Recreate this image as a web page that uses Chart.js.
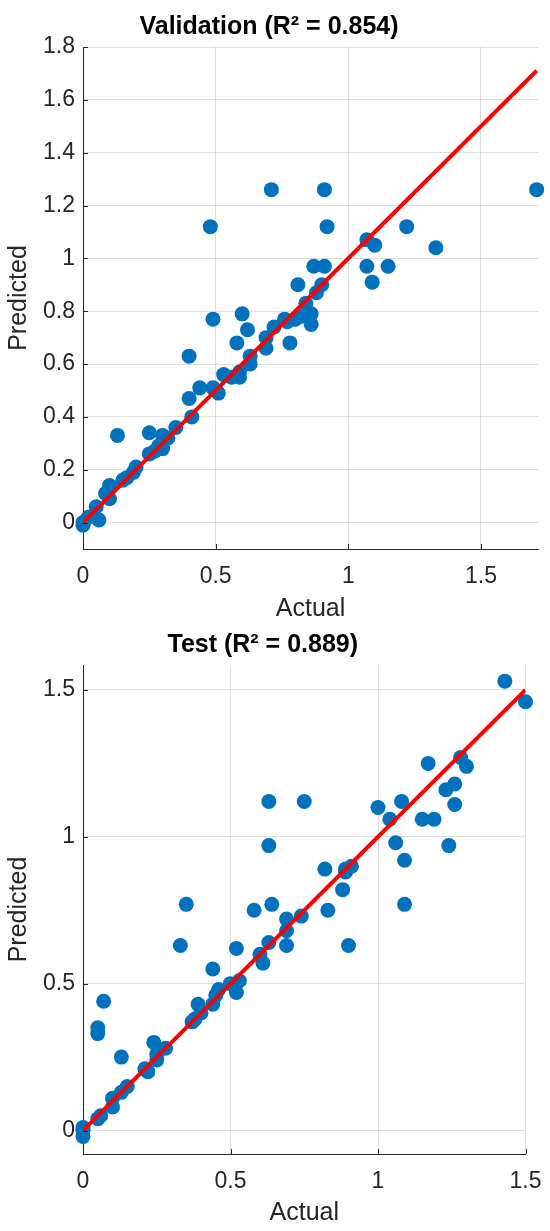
<!DOCTYPE html>
<html lang="en">
<head>
<meta charset="UTF-8">
<title>Actual vs Predicted</title>
<script src="https://cdn.jsdelivr.net/npm/chart.js"></script>
<style>
  body { margin: 0; background: #fff; }
  canvas { display: block; }
</style>
</head>
<body>
<canvas id="valChart" width="550" height="625"></canvas>
<canvas id="testChart" width="550" height="606"></canvas>
<script>
// validation set
const valActual = [0.00, 0.00, 0.02, 0.05, 0.06, 0.085, 0.10, 0.10, 0.13, 0.15, 0.165, 0.19, 0.20, 0.25, 0.25, 0.27, 0.285, 0.30, 0.30, 0.32, 0.35,
  0.40, 0.41, 0.40, 0.44, 0.49, 0.51, 0.48, 0.49, 0.53, 0.56, 0.59, 0.59, 0.58, 0.60, 0.62, 0.63, 0.63, 0.69, 0.69, 0.71,
  0.72, 0.76, 0.77, 0.78, 0.80, 0.82, 0.84, 0.86, 0.86, 0.81, 0.87, 0.88, 0.90, 0.91, 0.91, 0.92, 1.07, 1.10, 1.07, 1.09,
  1.15, 1.22, 1.33, 1.71];
const valPredicted = [0.00, -0.01, 0.02, 0.06, 0.01, 0.11, 0.14, 0.09, 0.33, 0.16, 0.17, 0.19, 0.21, 0.26, 0.34, 0.27, 0.29, 0.28, 0.33, 0.32, 0.36,
  0.47, 0.40, 0.63, 0.51, 0.51, 0.49, 1.12, 0.77, 0.56, 0.55, 0.55, 0.57, 0.68, 0.79, 0.73, 0.63, 0.60, 0.66, 0.70, 1.26,
  0.74, 0.77, 0.76, 0.68, 0.77, 0.78, 0.83, 0.79, 0.75, 0.90, 0.97, 0.87, 0.90, 0.97, 1.26, 1.12, 1.07, 1.05, 0.97, 0.91,
  0.97, 1.12, 1.04, 1.26];
const valXTicks = [0, 0.5, 1, 1.5];
const valYTicks = [0, 0.2, 0.4, 0.6, 0.8, 1, 1.2, 1.4, 1.6, 1.8];

// test set
const testActual = [0.00, 0.00, 0.00, 0.05, 0.06, 0.10, 0.10, 0.13, 0.15, 0.05, 0.05, 0.07, 0.13, 0.21, 0.22, 0.24, 0.25, 0.25, 0.28, 0.33,
  0.35, 0.37, 0.38, 0.39, 0.40, 0.44, 0.44, 0.45, 0.46, 0.50, 0.52, 0.53, 0.52, 0.58, 0.60, 0.61, 0.63, 0.63, 0.63, 0.64,
  0.69, 0.69, 0.69, 0.74, 0.75, 0.82, 0.83, 0.88, 0.89, 0.89, 0.91, 0.90, 1.00, 1.04, 1.06, 1.08, 1.09, 1.09, 1.15, 1.19,
  1.17, 1.23, 1.26, 1.26, 1.24, 1.28, 1.30, 1.43, 1.50];
const testPredicted = [0.00, -0.02, 0.01, 0.04, 0.05, 0.08, 0.11, 0.13, 0.15, 0.33, 0.35, 0.44, 0.25, 0.21, 0.20, 0.30, 0.24, 0.26, 0.28, 0.63,
  0.77, 0.37, 0.38, 0.43, 0.40, 0.43, 0.55, 0.46, 0.48, 0.50, 0.47, 0.51, 0.62, 0.75, 0.60, 0.57, 0.64, 0.97, 1.12, 0.77,
  0.63, 0.68, 0.72, 0.73, 1.12, 0.89, 0.75, 0.82, 0.88, 0.89, 0.90, 0.63, 1.10, 1.06, 0.98, 1.12, 0.92, 0.77, 1.06, 1.06,
  1.25, 1.16, 1.18, 1.11, 0.97, 1.27, 1.24, 1.53, 1.46];
const testXTicks = [0, 0.5, 1, 1.5];
const testYTicks = [0, 0.5, 1, 1.5];

const FONT = '"Liberation Sans", Arial, sans-serif';
const INK = '#262626';

// MATLAB style inward tick marks
const innerTicks = {
  id: 'innerTicks',
  afterDraw(chart) {
    const ctx = chart.ctx, a = chart.chartArea;
    const xs = chart.scales.x, ys = chart.scales.y;
    ctx.save();
    ctx.strokeStyle = INK;
    ctx.lineWidth = 1;
    ctx.beginPath();
    xs.ticks.forEach(t => {
      const px = Math.round(xs.getPixelForValue(t.value)) + 0.5;
      ctx.moveTo(px, a.bottom); ctx.lineTo(px, a.bottom - 5);
    });
    ys.ticks.forEach(t => {
      const py = Math.round(ys.getPixelForValue(t.value)) + 0.5;
      ctx.moveTo(a.left, py); ctx.lineTo(a.left + 5, py);
    });
    ctx.stroke();
    ctx.restore();
  }
};

function makeChart(id, title, actual, predicted, xTicks, yTicks, xMax, yMin, yMax, rightPad, titlePad, padBottom, xTitlePad) {
  const pts = actual.map((a, i) => ({x: a, y: predicted[i]}));
  const m = Math.max(...actual);
  return new Chart(document.getElementById(id), {
    type: 'scatter',
    data: {
      datasets: [
        {
          type: 'line',
          data: [{x: 0, y: 0}, {x: m, y: m}],
          borderColor: '#ff0000',
          borderWidth: 4,
          pointRadius: 0,
          order: 0
        },
        {
          data: pts,
          backgroundColor: '#0072bd',
          pointRadius: 7.5,
          pointBorderWidth: 0,
          clip: false,
          order: 1
        }
      ]
    },
    options: {
      responsive: false,
      animation: false,
      layout: { padding: { left: 0, right: rightPad, top: 0, bottom: padBottom } },
      plugins: {
        legend: { display: false },
        tooltip: { enabled: false },
        title: {
          display: true,
          text: title,
          color: '#000',
          font: { family: FONT, size: 25, weight: 'bold' },
          padding: titlePad
        }
      },
      scales: {
        x: {
          type: 'linear',
          min: 0, max: xMax,
          afterBuildTicks: s => { s.ticks = xTicks.map(v => ({value: v})); },
          afterFit: s => { s.height = 76; s.paddingLeft = 0; s.paddingRight = 0; },
          ticks: { color: INK, padding: 14, font: { family: FONT, size: 23 }, callback: v => String(Math.round(v * 10) / 10) },
          grid: { color: 'rgba(38,38,38,0.15)', drawTicks: false },
          border: { display: true, color: INK, width: 1 },
          title: { display: true, text: 'Actual', color: INK, font: { family: FONT, size: 25 }, padding: { top: 0, bottom: xTitlePad } }
        },
        y: {
          type: 'linear',
          min: yMin, max: yMax,
          afterBuildTicks: s => { s.ticks = yTicks.map(v => ({value: v})); },
          afterFit: s => { s.width = 83; },
          ticks: { color: INK, padding: 8, font: { family: FONT, size: 23 }, callback: v => String(Math.round(v * 10) / 10) },
          grid: { color: 'rgba(38,38,38,0.15)', drawTicks: false },
          border: { display: true, color: INK, width: 1 },
          title: { display: true, text: 'Predicted', color: INK, font: { family: FONT, size: 25 }, padding: { top: 4, bottom: 0 } }
        }
      }
    },
    plugins: [innerTicks]
  });
}

makeChart('valChart', 'Validation (R² = 0.854)', valActual, valPredicted, valXTicks, valYTicks,
  1.715, -0.1, 1.8, 12, { top: 12, bottom: 5 }, 0, 1);
makeChart('testChart', 'Test (R² = 0.889)', testActual, testPredicted, testXTicks, testYTicks,
  1.5, -0.08, 1.585, 24.5, { top: 5, bottom: 5 }, 1, 2);
</script>
</body>
</html>
